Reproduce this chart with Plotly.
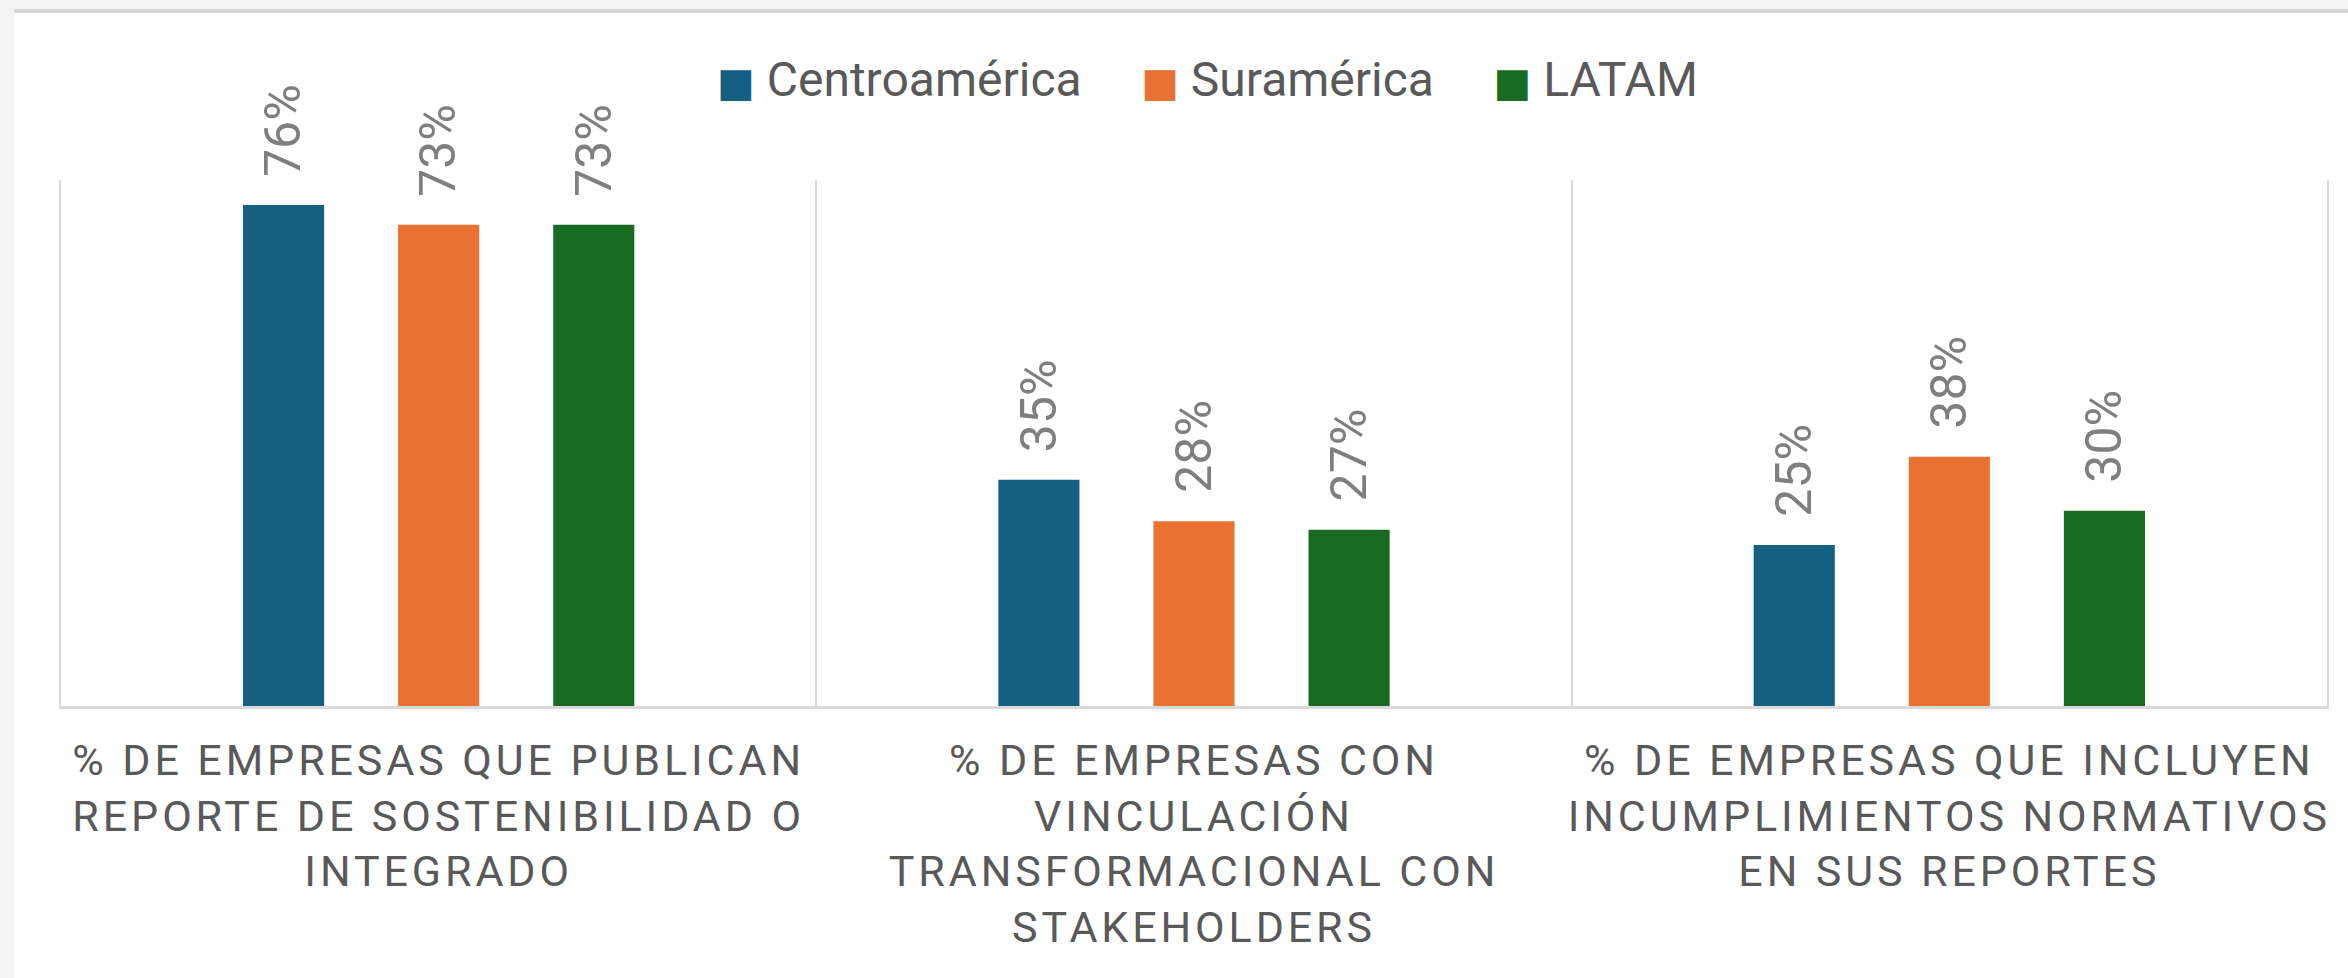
import plotly.graph_objects as go

# ---------------- data ----------------
categories = [
    "% DE EMPRESAS QUE PUBLICAN REPORTE DE SOSTENIBILIDAD O INTEGRADO",
    "% DE EMPRESAS CON VINCULACIÓN TRANSFORMACIONAL CON STAKEHOLDERS",
    "% DE EMPRESAS QUE INCLUYEN INCUMPLIMIENTOS NORMATIVOS EN SUS REPORTES",
]
tick_lines = [
    ["% DE EMPRESAS QUE PUBLICAN", "REPORTE DE SOSTENIBILIDAD O", "INTEGRADO"],
    ["% DE EMPRESAS CON", "VINCULACIÓN", "TRANSFORMACIONAL CON", "STAKEHOLDERS"],
    ["% DE EMPRESAS QUE INCLUYEN", "INCUMPLIMIENTOS NORMATIVOS", "EN SUS REPORTES"],
]
series_names = ["Centroamérica", "Suramérica", "LATAM"]
centroamerica = [76.2, 34.4, 24.5]
suramerica = [73.2, 28.1, 37.9]
latam = [73.2, 26.8, 29.7]
centroamerica_labels = ["76%", "35%", "25%"]
suramerica_labels = ["73%", "28%", "38%"]
latam_labels = ["73%", "27%", "30%"]
colors = ["#156082", "#E97132", "#196B24"]

series_values = [centroamerica, suramerica, latam]
series_labels = [centroamerica_labels, suramerica_labels, latam_labels]

# ---------------- layout constants ----------------
W, H = 2348, 978
ML, MR, MT, MB = 61, 21, 180, 272
PW, PH = W - ML - MR, H - MT - MB
BARGAP = 0.384
BARGROUPGAP = 0.477
FONT = "Roboto"
TICK_COLOR = "#595959"
LABEL_COLOR = "#7F7F7F"
AXIS_COLOR = "#D9D9D9"


def px_x(px):
    return (px - ML) / PW


def px_y(py):
    return (H - MB - py) / PH


fig = go.Figure()
for name, vals, col in zip(series_names, series_values, colors):
    fig.add_trace(go.Bar(
        name=name, x=categories, y=vals,
        marker=dict(color=col, line=dict(width=0)),
        showlegend=False, hoverinfo="skip",
    ))

# data labels (rotated, above each bar)
slot = (1 - BARGAP) / len(series_names)
annotations = []
for j, (vals, labs) in enumerate(zip(series_values, series_labels)):
    for i, (v, lab) in enumerate(zip(vals, labs)):
        annotations.append(dict(
            x=i + (j - (len(series_names) - 1) / 2) * slot, y=v,
            xref="x", yref="y", text=lab, showarrow=False,
            textangle=-90, xanchor="center", yanchor="bottom", yshift=26,
            font=dict(family=FONT, size=50, color=LABEL_COLOR),
        ))

# legend (centered row above the plot)
gap = "\u00a0" * 5
legend_parts = []
for name, col in zip(series_names, colors):
    legend_parts.append(
        "<span style='color:%s;font-family:DejaVu Sans;font-size:40px'>■</span>\u00a0%s"
        % (col, name))
annotations.append(dict(
    x=px_x(1207), y=px_y(80), xref="paper", yref="paper",
    text=gap.join(legend_parts), showarrow=False,
    xanchor="center", yanchor="middle",
    font=dict(family=FONT, size=48, color=TICK_COLOR),
))

# tick text with letter spacing
LS = "letter-spacing:3.9px"
ticktext = ["<br>".join("<span style='%s'>%s</span>" % (LS, ln) for ln in lines)
            for lines in tick_lines]

shapes = [
    # white card
    dict(type="rect", xref="paper", yref="paper", layer="below",
         x0=px_x(14), x1=px_x(W + 5), y0=px_y(9), y1=px_y(H + 5),
         fillcolor="white", line=dict(width=0)),
    # top grey rule
    dict(type="rect", xref="paper", yref="paper", layer="below",
         x0=px_x(14), x1=px_x(W + 5), y0=px_y(9), y1=px_y(13),
         fillcolor="#D6D6D6", line=dict(width=0)),
]

fig.update_layout(
    width=W, height=H,
    margin=dict(l=ML, r=MR, t=MT, b=MB, pad=0, autoexpand=False),
    paper_bgcolor="#F4F4F4", plot_bgcolor="rgba(0,0,0,0)",
    barmode="group", bargap=BARGAP, bargroupgap=BARGROUPGAP,
    showlegend=False,
    annotations=annotations, shapes=shapes,
    font=dict(family=FONT, color=TICK_COLOR),
    xaxis=dict(
        type="category", tickvals=categories, ticktext=ticktext,
        tickson="boundaries", ticks="", showgrid=True, tickangle=0,
        automargin=False,
        gridcolor=AXIS_COLOR, gridwidth=2,
        showline=True, linecolor=AXIS_COLOR, linewidth=3,
        tickfont=dict(family=FONT, size=43, color=TICK_COLOR),
        ticklabelstandoff=14, fixedrange=True,
    ),
    yaxis=dict(
        range=[0, 80], showgrid=False, zeroline=False,
        showticklabels=False, ticks="", automargin=False,
        showline=True, mirror=True, linecolor=AXIS_COLOR, linewidth=2,
        fixedrange=True,
    ),
)

fig.write_html("out.html", config={"displayModeBar": False},
               post_script="document.body.style.margin='0';document.body.style.overflow='hidden';")
